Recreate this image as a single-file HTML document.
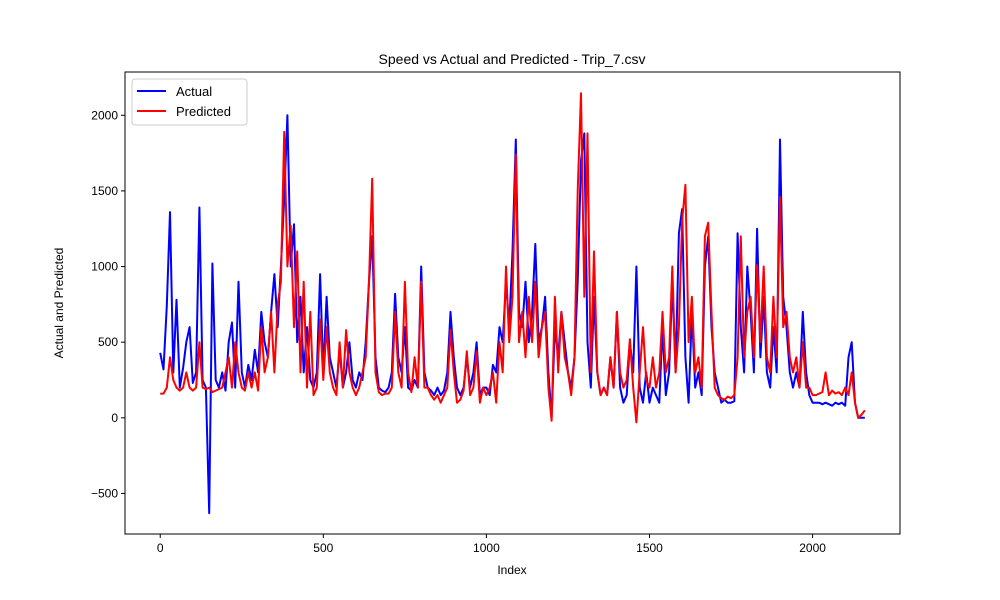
<!DOCTYPE html>
<html><head><meta charset="utf-8"><style>
body{margin:0;background:#fff;}
svg{display:block;font-family:"Liberation Sans","DejaVu Sans",sans-serif;}
</style></head><body>
<svg id="chart" width="1000" height="600"></svg>
<script>
const indexStep = 10;
const actualValues = [430,320,740,1360,300,780,200,330,500,600,230,300,1390,250,200,-630,1020,250,200,300,
180,500,630,200,900,300,200,350,250,450,300,700,500,400,700,950,600,1000,1450,2000,1000,1280,500,800,300,600,250,200,300,950,300,800,400,300,200,450,200,300,500,250,
200,300,250,500,900,1200,400,200,180,170,200,300,820,400,300,600,200,180,250,200,1000,300,200,180,150,200,150,180,300,700,400,200,150,200,400,200,300,500,150,200,
200,150,350,300,600,500,900,600,1100,1840,700,600,900,500,700,1150,500,600,800,300,0,600,400,700,500,300,200,400,900,1700,1880,500,200,800,300,150,200,150,400,200,700,200,100,150,500,300,1000,200,100,300,100,200,150,100,600,150,300,900,300,1220,1380,400,100,700,200,300,150,1000,1200,600,300,200,100,120,100,100,110,1220,600,300,1000,700,300,1250,400,800,300,200,600,300,1840,800,600,300,200,300,200,700,300,150,100,100,100,90,100,90,80,100,90,100,80,400,500,100,0,0,0];
const predictedValues = [160,160,200,400,250,200,180,200,300,200,180,200,500,200,190,200,170,180,190,200,300,400,200,500,300,200,180,300,200,300,180,600,300,400,700,300,750,900,1890,1000,1270,600,1100,300,900,200,700,150,200,650,250,600,300,200,150,500,200,580,300,200,150,200,300,400,900,1580,300,170,150,160,160,200,700,300,200,900,300,170,400,200,900,200,200,150,120,150,100,150,200,580,300,100,120,180,440,150,200,440,100,200,150,200,300,100,500,300,1000,500,800,1740,500,700,400,800,500,900,400,600,700,200,-20,800,300,700,400,300,150,400,1500,2145,800,1880,300,1100,300,150,200,150,400,200,700,300,200,250,520,200,-30,300,600,250,200,400,200,300,700,300,400,1000,300,600,1300,1540,500,800,300,400,200,1200,1290,700,200,150,130,120,140,130,150,400,1200,400,700,800,400,1010,500,1000,400,300,800,400,1460,600,700,400,300,400,200,500,200,200,150,150,160,170,300,150,180,160,170,150,200,150,300,100,0,20,50];
const xTicks = [0,500,1000,1500,2000];
const yTicks = [-500,0,500,1000,1500,2000];

const svg = document.getElementById('chart');
const NS = 'http://www.w3.org/2000/svg';
const L=125,R=900,T=72,B=534;
const xMin=-108, xMax=2268, yMin=-768, yMax=2286;
const xs = v => L + (v-xMin)/(xMax-xMin)*(R-L);
const ys = v => B - (v-yMin)/(yMax-yMin)*(B-T);
function mk(tag, attrs){const e=document.createElementNS(NS,tag);for(const k in attrs)e.setAttribute(k,attrs[k]);svg.appendChild(e);return e;}

function series(vals,color,name){
  const d = vals.map((v,i)=>(i?'L':'M')+xs(i*indexStep).toFixed(1)+','+ys(v).toFixed(1)).join(' ');
  const p = mk('path',{d:d,fill:'none',stroke:color,'stroke-width':2,'stroke-linejoin':'round'});
  
  
}
series(actualValues,'#0000ff','actual-line');
series(predictedValues,'#ff0000','predicted-line');

const frame = mk('rect',{x:L,y:T,width:R-L,height:B-T,fill:'none',stroke:'#000','stroke-width':1});



xTicks.forEach(t=>{
  const x=xs(t);
  const tk=mk('line',{x1:x,x2:x,y1:B,y2:B+4,stroke:'#000'});
  
  
  const lb=mk('text',{x:x,y:B+18,'font-size':12,'text-anchor':'middle'});
  lb.textContent=String(t).replace('-','\u2212');
  
  
});
yTicks.forEach(t=>{
  const y=ys(t);
  const tk=mk('line',{x1:L-4,x2:L,y1:y,y2:y,stroke:'#000'});
  
  
  const lb=mk('text',{x:L-7,y:y+4,'font-size':12,'text-anchor':'end'});
  lb.textContent=String(t).replace('-','\u2212');
  
  
});
</script>
<svg style="position:absolute;left:0;top:0" width="1000" height="600">
<text x="512" y="64" font-size="14" text-anchor="middle" font-family="Liberation Sans, sans-serif">Speed vs Actual and Predicted - Trip_7.csv</text>
<text x="512" y="574" font-size="12" text-anchor="middle" font-family="Liberation Sans, sans-serif">Index</text>
<text x="63" y="303" font-size="12" text-anchor="middle" font-family="Liberation Sans, sans-serif" transform="rotate(-90 63 303)">Actual and Predicted</text>
<g>
<rect x="132" y="79" width="115" height="46" rx="3" fill="#fff" fill-opacity="0.8" stroke="#ccc"/>
<line x1="137" x2="166" y1="91" y2="91" stroke="#0000ff" stroke-width="2"/>
<text x="176" y="96" font-size="13" font-family="Liberation Sans, sans-serif">Actual</text>
<line x1="137" x2="166" y1="111" y2="111" stroke="#ff0000" stroke-width="2"/>
<text x="176" y="116" font-size="13" font-family="Liberation Sans, sans-serif">Predicted</text>
</g>
</svg>
</body></html>
